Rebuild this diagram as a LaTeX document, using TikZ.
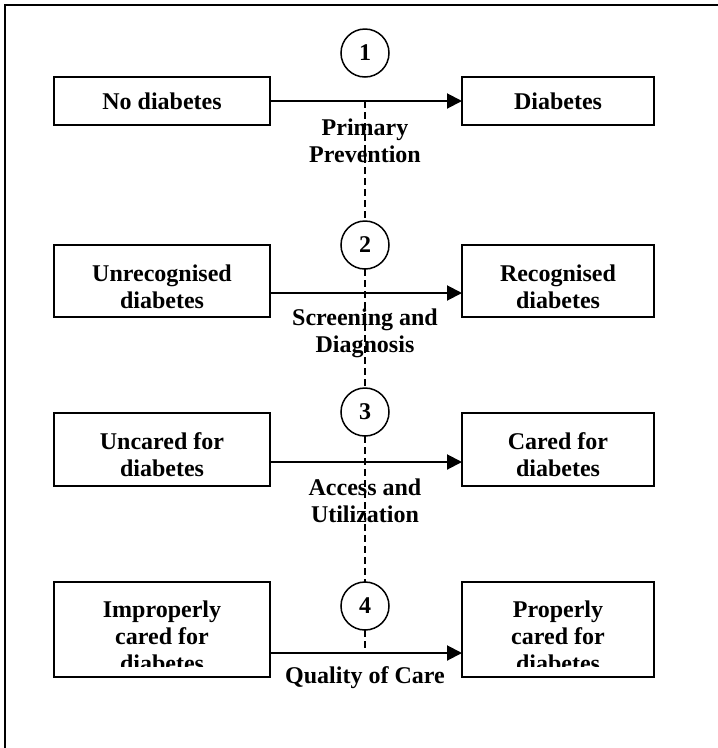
\documentclass[tikz,border=0pt]{standalone}
\usepackage{fontspec}
\setmainfont{Liberation Serif}
\usetikzlibrary{arrows.meta}
\begin{document}
\begin{tikzpicture}[x=1pt,y=-1pt,
  every node/.style={font=\bfseries\fontsize{24}{27}\selectfont},
  stagebox/.style={draw,line width=2pt,rectangle,inner sep=0pt,outer sep=0pt},
  lbox/.style={stagebox,minimum width=216pt},
  rbox/.style={stagebox,minimum width=192pt},
  txt/.style={align=center,inner sep=0pt},
  num/.style={draw,circle,line width=1.5pt,minimum size=48pt,inner sep=0pt,outer sep=0pt},
  flow/.style={line width=2pt,-{Triangle[length=15pt,width=15pt]}},
  guide/.style={line width=1.5pt,dash pattern=on 7pt off 4pt}
]
\useasboundingbox (0,0) rectangle (718,748);
\draw[line width=2pt] (5,760) -- (5,5) -- (725,5);

% circles
\node[num] (c1) at (365,53) {1};
\node[num] (c2) at (365,245) {2};
\node[num] (c3) at (365,412) {3};
\node[num] (c4) at (365,606) {4};

% arrow heights on the guide line
\coordinate (a1) at (365,101);
\coordinate (a2) at (365,293);
\coordinate (a3) at (365,462);
\coordinate (a4) at (365,653);

% row 1
\node[lbox,minimum height=48pt] (L1) at (162,101) {No diabetes};
\node[rbox,minimum height=48pt] (R1) at (558,101) {Diabetes};
% row 2
\node[lbox,minimum height=72pt] (L2) at (162,281) {};
\node[rbox,minimum height=72pt] (R2) at (558,281) {};
\node[txt] (L2t) at (162,287) {Unrecognised\\diabetes};
\node[txt] (R2t) at (558,287) {Recognised\\diabetes};
% row 3
\node[lbox,minimum height=73pt] (L3) at (162,449.5) {};
\node[rbox,minimum height=73pt] (R3) at (558,449.5) {};
\node[txt] (L3t) at (162,455) {Uncared for\\diabetes};
\node[txt] (R3t) at (558,455) {Cared for\\diabetes};
% row 4
\node[lbox,minimum height=95pt] (L4) at (162,629.5) {};
\node[rbox,minimum height=95pt] (R4) at (558,629.5) {};
\begin{scope}
  \clip (0,583) rectangle (718,666);
  \node[txt] (L4t) at (162,636) {Improperly\\cared for\\diabetes};
  \node[txt] (R4t) at (558,636) {Properly\\cared for\\diabetes};
\end{scope}

% guide line
\draw[guide] (a1) -- (c2.north);
\draw[guide] (c2.south) -- (c3.north);
\draw[guide] (c3.south) -- (c4.north);
\draw[guide] (c4.south) -- (a4);

% arrows
\draw[flow] (L1.east |- a1) -- (R1.west |- a1);
\draw[flow] (L2.east |- a2) -- (R2.west |- a2);
\draw[flow] (L3.east |- a3) -- (R3.west |- a3);
\draw[flow] (L4.east |- a4) -- (R4.west |- a4);

% labels
\node[txt] (p1) at (365,141) {Primary\\Prevention};
\node[txt] (p2) at (365,333) {Screening and\\Diagnosis};
\node[txt] (p3) at (365,501) {Access and\\Utilization};
\node[txt] (p4) at (365,678) {Quality of Care};
\end{tikzpicture}
\end{document}
